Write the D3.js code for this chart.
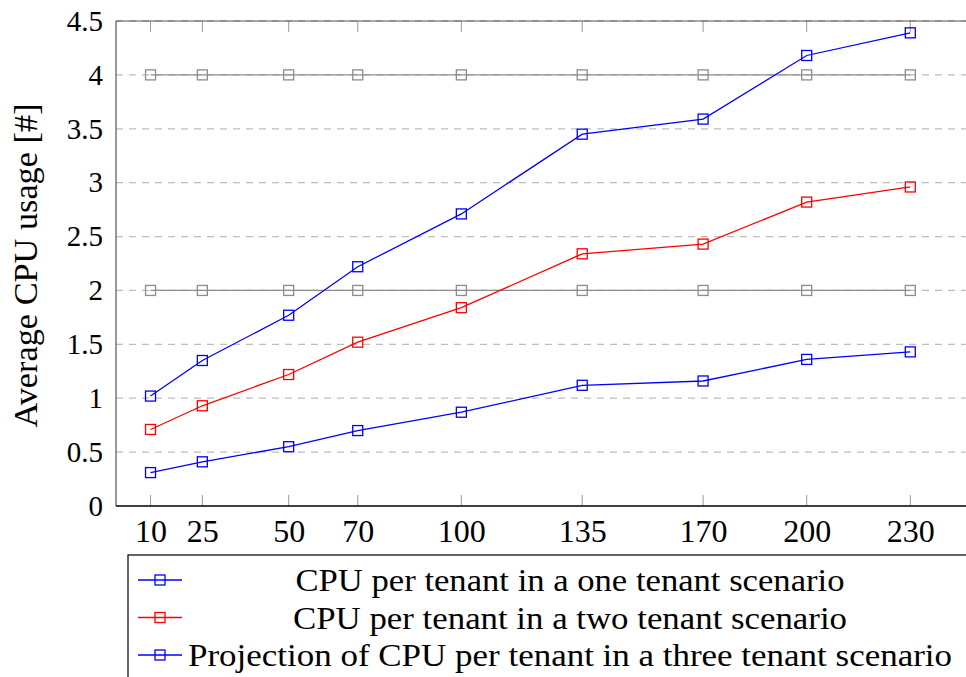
<!DOCTYPE html>
<html>
<head>
<meta charset="utf-8">
<script src="https://cdn.jsdelivr.net/npm/d3@7"></script>
<style>
  body { margin: 0; background: #fff; }
  text { font-family: "Liberation Serif", "DejaVu Serif", serif; fill: #000; }
</style>
</head>
<body>
<svg id="chart"></svg>
<script>
// tenants on the x axis
var tenants = [10, 25, 50, 70, 100, 135, 170, 200, 230];
var yTicks = [0, 0.5, 1, 1.5, 2, 2.5, 3, 3.5, 4, 4.5];

var oneTenant = [1.02, 1.35, 1.77, 2.22, 2.71, 3.45, 3.59, 4.18, 4.39];
var twoTenant = [0.71, 0.93, 1.22, 1.52, 1.84, 2.34, 2.43, 2.82, 2.96];
var threeTenant = [0.31, 0.41, 0.55, 0.70, 0.87, 1.12, 1.16, 1.36, 1.43];
var capacityHigh = [4, 4, 4, 4, 4, 4, 4, 4, 4];
var capacityLow = [2, 2, 2, 2, 2, 2, 2, 2, 2];

var seriesNames = [
    "CPU per tenant in a one tenant scenario",
    "CPU per tenant in a two tenant scenario",
    "Projection of CPU per tenant in a three tenant scenario"
];

(function() {
    var W = 966, H = 677;
    var left = 116, top = 21, bottom = 506;

    var svg = d3.select("#chart")
        .attr("width", W)
        .attr("height", H);

    var x = d3.scaleLinear().domain([0, 250]).range([left, left + 250 * 3.4535]);
    var y = d3.scaleLinear().domain([0, 4.5]).range([bottom, top]);

    // dashed grid
    svg.append("g")
        .selectAll("line")
        .data(yTicks.filter(d => d > 0))
        .enter().append("line")
        .attr("x1", left).attr("x2", W + 20)
        .attr("y1", d => y(d)).attr("y2", d => y(d))
        .attr("stroke", "#bdbdbd")
        .attr("stroke-width", 1.3)
        .attr("stroke-dasharray", "7,6");

    // x tick marks (bottom and top, pointing in)
    var tk = svg.append("g").attr("stroke", "#999").attr("stroke-width", 1);
    tenants.forEach(t => {
        tk.append("line").attr("x1", x(t)).attr("x2", x(t)).attr("y1", bottom).attr("y2", bottom - 11);
        tk.append("line").attr("x1", x(t)).attr("x2", x(t)).attr("y1", top).attr("y2", top + 11);
    });

    // x axis
    var xAxis = svg.append("g")
        .attr("transform", `translate(0, ${bottom})`)
        .call(d3.axisBottom(x).tickValues(tenants).tickSize(0).tickPadding(13));
    xAxis.select(".domain").remove();
    xAxis.selectAll("text")
        .style("font-size", "32px")
        .style("font-family", "Liberation Serif");

    // y axis
    var yAxis = svg.append("g")
        .attr("transform", `translate(${left}, 0)`)
        .call(d3.axisLeft(y).tickValues(yTicks).tickFormat(d3.format("")).tickSize(0).tickPadding(13));
    yAxis.select(".domain").remove();
    yAxis.selectAll("text")
        .style("font-size", "29px")
        .style("font-family", "Liberation Serif");

    // frame
    svg.append("line").attr("x1", left).attr("x2", W + 20).attr("y1", top).attr("y2", top)
        .attr("stroke", "#555").attr("stroke-width", 1.2);
    svg.append("line").attr("x1", left).attr("x2", left).attr("y1", top).attr("y2", bottom)
        .attr("stroke", "#555").attr("stroke-width", 1.2);
    svg.append("line").attr("x1", left).attr("x2", W + 20).attr("y1", bottom).attr("y2", bottom)
        .attr("stroke", "#000").attr("stroke-width", 1.5);

    var line = d3.line()
        .x((d, i) => x(tenants[i]))
        .y(d => y(d));

    var series = [
        { values: capacityHigh, color: "#8c8c8c" },
        { values: capacityLow, color: "#8c8c8c" },
        { values: threeTenant, color: "#0000ff" },
        { values: twoTenant, color: "#ff0000" },
        { values: oneTenant, color: "#0000ff" }
    ];

    series.forEach(s => {
        svg.append("path")
            .datum(s.values)
            .attr("d", line)
            .attr("fill", "none")
            .attr("stroke", s.color)
            .attr("stroke-width", 1.3);
        svg.append("g")
            .selectAll("rect")
            .data(s.values)
            .enter().append("rect")
            .attr("x", (d, i) => x(tenants[i]) - 5)
            .attr("y", d => y(d) - 5)
            .attr("width", 10)
            .attr("height", 10)
            .attr("fill", "none")
            .attr("stroke", s.color)
            .attr("stroke-width", 1.3);
    });

    // y label
    svg.append("text")
        .attr("transform", `translate(37, ${(top + bottom) / 2 + 2}) rotate(-90)`)
        .style("text-anchor", "middle")
        .style("font-size", "33px")
        .attr("textLength", 324)
        .attr("lengthAdjust", "spacingAndGlyphs")
        .text("Average CPU usage [#]");

    // legend
    var lg = svg.append("g");
    lg.append("rect")
        .attr("x", 128).attr("y", 555)
        .attr("width", 900).attr("height", 200)
        .attr("fill", "#fff")
        .attr("stroke", "#000")
        .attr("stroke-width", 1.2);
    var legendColors = ["#0000ff", "#ff0000", "#0000ff"];
    var legendWidths = [549, 554, 764];
    seriesNames.forEach((name, i) => {
        var cy = 580 + i * 37.5;
        lg.append("line")
            .attr("x1", 138).attr("x2", 182)
            .attr("y1", cy).attr("y2", cy)
            .attr("stroke", legendColors[i]).attr("stroke-width", 1.3);
        lg.append("rect")
            .attr("x", 155).attr("y", cy - 5)
            .attr("width", 10).attr("height", 10)
            .attr("fill", "none")
            .attr("stroke", legendColors[i]).attr("stroke-width", 1.3);
        lg.append("text")
            .attr("x", 570).attr("y", cy + 11)
            .style("text-anchor", "middle")
            .style("font-size", "32px")
            .attr("textLength", legendWidths[i])
            .attr("lengthAdjust", "spacingAndGlyphs")
            .text(name);
    });
})();
</script>
</body>
</html>
